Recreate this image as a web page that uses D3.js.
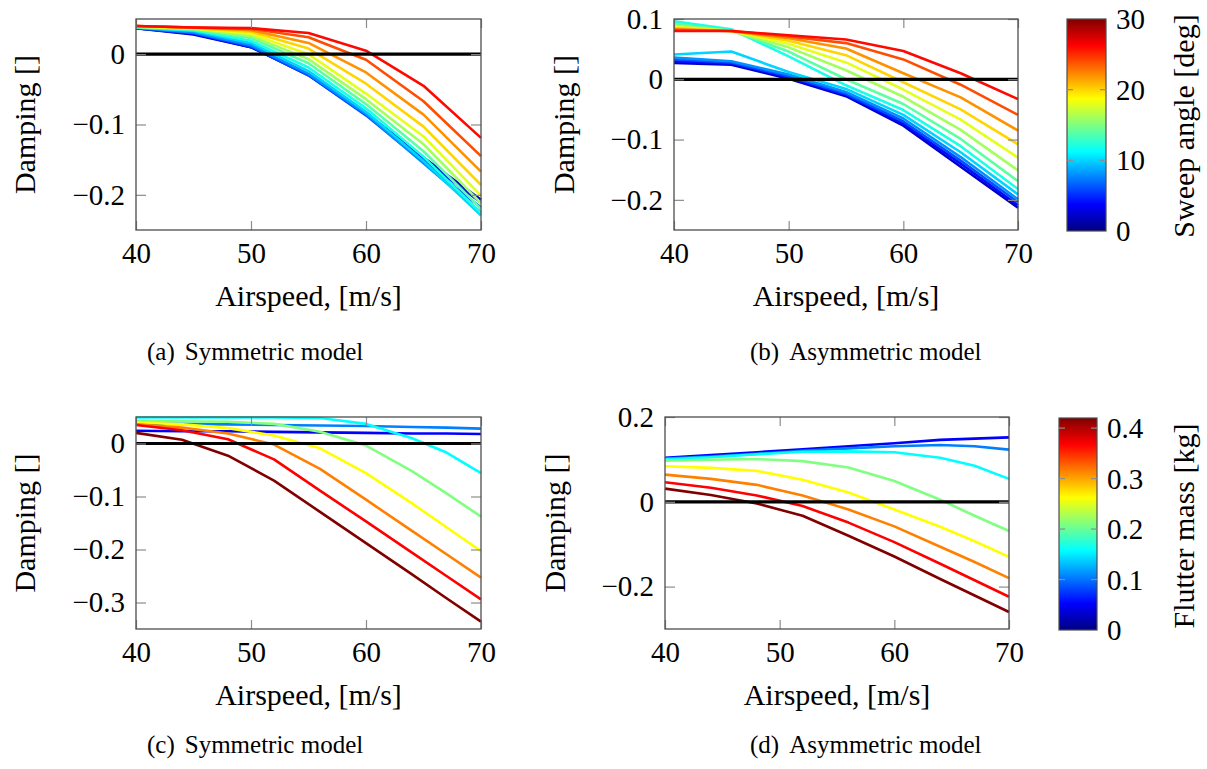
<!DOCTYPE html>
<html>
<head>
<meta charset="utf-8">
<script src="https://cdn.jsdelivr.net/npm/d3@7"></script>
<style>
body { margin: 0; background: #fff; }
</style>
</head>
<body>
<script>
//airspeed samples and sweep angles for panels (a) and (b)
var speedAB = [40, 45, 50, 55, 60, 65, 70];
var sweepAngle = [2, 4, 6, 8, 10, 12, 14, 16, 18, 20, 22, 24, 26];

//damping, symmetric model, one row per sweep angle
var dampA = [
    [0.037, 0.028, 0.010, -0.029, -0.084, -0.147, -0.207],
    [0.037, 0.029, 0.010, -0.030, -0.086, -0.150, -0.211],
    [0.037, 0.030, 0.011, -0.030, -0.087, -0.154, -0.218],
    [0.038, 0.031, 0.013, -0.028, -0.085, -0.155, -0.225],
    [0.038, 0.033, 0.016, -0.024, -0.082, -0.152, -0.229],
    [0.038, 0.034, 0.019, -0.019, -0.077, -0.146, -0.226],
    [0.039, 0.035, 0.023, -0.013, -0.071, -0.138, -0.220],
    [0.039, 0.036, 0.026, -0.007, -0.064, -0.128, -0.212],
    [0.039, 0.037, 0.029, 0.000, -0.056, -0.117, -0.201],
    [0.040, 0.037, 0.032, 0.008, -0.042, -0.103, -0.186],
    [0.040, 0.038, 0.034, 0.016, -0.026, -0.086, -0.167],
    [0.040, 0.038, 0.036, 0.024, -0.008, -0.067, -0.145],
    [0.040, 0.038, 0.037, 0.030, 0.005, -0.045, -0.119]
];

//damping, asymmetric model, one row per sweep angle
var dampB = [
    [0.027, 0.024, 0.001, -0.028, -0.077, -0.145, -0.213],
    [0.030, 0.026, 0.003, -0.026, -0.074, -0.140, -0.209],
    [0.033, 0.028, 0.005, -0.024, -0.070, -0.135, -0.204],
    [0.036, 0.030, 0.008, -0.021, -0.065, -0.129, -0.199],
    [0.041, 0.046, 0.012, -0.016, -0.059, -0.121, -0.191],
    [0.096, 0.083, 0.038, -0.010, -0.051, -0.111, -0.182],
    [0.092, 0.081, 0.046, 0.000, -0.041, -0.099, -0.169],
    [0.089, 0.080, 0.053, 0.015, -0.029, -0.084, -0.151],
    [0.087, 0.080, 0.059, 0.028, -0.017, -0.067, -0.130],
    [0.085, 0.080, 0.064, 0.040, -0.005, -0.050, -0.108],
    [0.083, 0.080, 0.068, 0.051, 0.010, -0.030, -0.085],
    [0.082, 0.080, 0.071, 0.060, 0.033, -0.009, -0.059],
    [0.080, 0.080, 0.073, 0.066, 0.047, 0.010, -0.033]
];

//airspeed samples and flutter masses for panels (c) and (d)
var speedCD = [40, 44, 48, 52, 56, 60, 64, 67, 70];
var flutterMass = [0.0525, 0.105, 0.1575, 0.21, 0.2625, 0.315, 0.3675, 0.42];

var dampC = [
    [0.024, 0.023, 0.023, 0.022, 0.021, 0.020, 0.019, 0.019, 0.018],
    [0.038, 0.037, 0.036, 0.035, 0.034, 0.033, 0.031, 0.030, 0.028],
    [0.049, 0.049, 0.049, 0.049, 0.048, 0.037, 0.010, -0.017, -0.056],
    [0.043, 0.042, 0.041, 0.037, 0.022, -0.004, -0.052, -0.094, -0.138],
    [0.040, 0.036, 0.029, 0.015, -0.009, -0.056, -0.113, -0.158, -0.203],
    [0.036, 0.030, 0.019, -0.002, -0.048, -0.106, -0.165, -0.209, -0.253],
    [0.035, 0.025, 0.008, -0.030, -0.089, -0.147, -0.206, -0.250, -0.294],
    [0.020, 0.007, -0.023, -0.070, -0.129, -0.188, -0.247, -0.292, -0.336]
];

var dampD = [
    [0.104, 0.110, 0.117, 0.124, 0.131, 0.138, 0.146, 0.149, 0.152],
    [0.102, 0.107, 0.113, 0.120, 0.126, 0.131, 0.134, 0.131, 0.123],
    [0.100, 0.105, 0.112, 0.118, 0.119, 0.117, 0.104, 0.085, 0.054],
    [0.097, 0.099, 0.101, 0.096, 0.081, 0.049, 0.005, -0.033, -0.069],
    [0.084, 0.080, 0.073, 0.052, 0.022, -0.018, -0.059, -0.093, -0.130],
    [0.064, 0.054, 0.040, 0.015, -0.018, -0.058, -0.106, -0.142, -0.180],
    [0.046, 0.033, 0.015, -0.010, -0.049, -0.095, -0.146, -0.185, -0.224],
    [0.031, 0.016, -0.004, -0.033, -0.080, -0.129, -0.182, -0.221, -0.260]
];

//tick labels
var xTicks = [40, 50, 60, 70];
var yTicksA = [-0.2, -0.1, 0];
var yTicksB = [-0.2, -0.1, 0, 0.1];
var yTicksC = [-0.3, -0.2, -0.1, 0];
var yTicksD = [-0.2, 0, 0.2];
var sweepTicks = [0, 10, 20, 30];
var massTicks = [0, 0.1, 0.2, 0.3, 0.4];

var FONT = "'Liberation Serif'";

//jet colormap
var jet = d3.scaleLinear()
    .domain([0, 0.125, 0.375, 0.625, 0.875, 1])
    .range(["#000080", "#0000ff", "#00ffff", "#ffff00", "#ff0000", "#800000"])
    .clamp(true);

var svg = d3.select("body").append("svg")
    .attr("width", 1207)
    .attr("height", 769);

var defs = svg.append("defs");

function fmt(d){
    return d === 0 ? "0" : d3.format(".1f")(d);
}

function drawPanel(o){
    var g = svg.append("g").attr("transform", "translate(" + o.left + "," + o.top + ")");

    var x = d3.scaleLinear().domain([40, 70]).range([0, o.w]);
    var y = d3.scaleLinear().domain(o.yDomain).range([o.h, 0]);

    //series
    var line = d3.line()
        .x(function(d, i){ return x(o.xs[i]); })
        .y(function(d){ return y(d); });

    g.append("g").selectAll("path")
        .data(o.rows)
        .enter()
        .append("path")
        .attr("d", line)
        .attr("fill", "none")
        .attr("stroke", function(d, i){ return o.color(i); })
        .attr("stroke-width", 2.6)
        .attr("stroke-linejoin", "round");

    //zero line
    g.append("line")
        .attr("x1", 0).attr("x2", o.w)
        .attr("y1", y(0)).attr("y2", y(0))
        .attr("stroke", "#000")
        .attr("stroke-width", 3.2);

    //axes with inward ticks on all four sides
    var axes = [
        [d3.axisBottom(x).tickValues(xTicks).tickSize(-9).tickPadding(12).tickFormat(d3.format("d")), "translate(0," + o.h + ")"],
        [d3.axisTop(x).tickValues(xTicks).tickSize(-9).tickFormat(""), null],
        [d3.axisLeft(y).tickValues(o.yTicks).tickSize(-10).tickPadding(11).tickFormat(fmt), null],
        [d3.axisRight(y).tickValues(o.yTicks).tickSize(-10).tickFormat(""), "translate(" + o.w + ",0)"]
    ];
    axes.forEach(function(a){
        var ag = g.append("g").call(a[0]);
        if (a[1]) ag.attr("transform", a[1]);
        ag.attr("font-family", null);
        ag.select(".domain").remove();
        ag.selectAll(".tick line").attr("stroke", "#8c8c8c").attr("stroke-width", 1.2);
        ag.selectAll(".tick text")
            .attr("fill", "#000")
            .style("font-family", FONT)
            .style("font-size", "29px");
    });

    //frame
    g.append("rect")
        .attr("width", o.w).attr("height", o.h)
        .attr("fill", "none")
        .attr("stroke", "#4d4d4d")
        .attr("stroke-width", 1.3);

    //axis titles
    g.append("text")
        .attr("x", o.w / 2).attr("y", o.h + 76)
        .attr("text-anchor", "middle")
        .style("font-family", FONT)
        .style("font-size", "30px")
        .text("Airspeed, [m/s]");

    g.append("text")
        .attr("transform", "translate(" + (o.ylabelX - o.left) + "," + (o.h / 2) + ") rotate(-90)")
        .attr("text-anchor", "middle")
        .attr("dominant-baseline", "central")
        .style("font-family", FONT)
        .style("font-size", "30px")
        .text("Damping []");

    //caption
    var c = svg.append("text")
        .attr("x", o.capX).attr("y", o.capY)
        .style("font-family", FONT)
        .style("font-size", "25px");
    c.append("tspan").text(o.caption[0]);
    c.append("tspan").attr("dx", 10).text(o.caption[1]);
}

function drawColorbar(o){
    var id = "grad" + o.id;
    var grad = defs.append("linearGradient")
        .attr("id", id)
        .attr("x1", 0).attr("y1", 1).attr("x2", 0).attr("y2", 0);
    grad.selectAll("stop")
        .data(jet.domain())
        .enter()
        .append("stop")
        .attr("offset", function(d){ return d; })
        .attr("stop-color", function(d){ return jet(d); });

    var y = d3.scaleLinear().domain([0, o.max]).range([o.top + o.h, o.top]);

    svg.append("rect")
        .attr("x", o.left).attr("y", o.top)
        .attr("width", o.w).attr("height", o.h)
        .attr("fill", "url(#" + id + ")")
        .attr("stroke", "#4d4d4d")
        .attr("stroke-width", 1.2);

    //interior tick marks on both sides
    var inner = o.ticks.filter(function(t){ return t > 0 && t < o.max; });
    [[o.left, o.left + 6], [o.left + o.w - 6, o.left + o.w]].forEach(function(side){
        svg.append("g").selectAll("line")
            .data(inner)
            .enter()
            .append("line")
            .attr("x1", side[0]).attr("x2", side[1])
            .attr("y1", function(d){ return y(d); })
            .attr("y2", function(d){ return y(d); })
            .attr("stroke", "#8c8c8c")
            .attr("stroke-width", 1.2);
    });

    svg.append("g").selectAll("text")
        .data(o.ticks)
        .enter()
        .append("text")
        .attr("x", o.left + o.w + 10)
        .attr("y", function(d){ return y(d); })
        .attr("dominant-baseline", "central")
        .style("font-family", FONT)
        .style("font-size", "29px")
        .text(o.format);

    svg.append("text")
        .attr("transform", "translate(" + o.labelX + "," + o.labelY + ") rotate(-90)")
        .attr("text-anchor", "middle")
        .attr("dominant-baseline", "central")
        .style("font-family", FONT)
        .style("font-size", "30px")
        .text(o.label);
}

var sweepColor = function(i){ return jet(sweepAngle[i] / 30); };
var massColor = function(i){ return jet(flutterMass[i] / 0.42); };

drawPanel({left: 136, top: 19, w: 345, h: 211, yDomain: [-0.25, 0.05], yTicks: yTicksA,
    xs: speedAB, rows: dampA, color: sweepColor, ylabelX: 24,
    caption: ["(a)", "Symmetric model"], capX: 147, capY: 360});

drawPanel({left: 674, top: 19, w: 344, h: 211, yDomain: [-0.25, 0.1], yTicks: yTicksB,
    xs: speedAB, rows: dampB, color: sweepColor, ylabelX: 563,
    caption: ["(b)", "Asymmetric model"], capX: 750, capY: 360});

drawPanel({left: 136, top: 417, w: 345, h: 212, yDomain: [-0.35, 0.05], yTicks: yTicksC,
    xs: speedCD, rows: dampC, color: massColor, ylabelX: 24,
    caption: ["(c)", "Symmetric model"], capX: 147, capY: 753});

drawPanel({left: 665, top: 417, w: 344, h: 212, yDomain: [-0.3, 0.2], yTicks: yTicksD,
    xs: speedCD, rows: dampD, color: massColor, ylabelX: 554,
    caption: ["(d)", "Asymmetric model"], capX: 750, capY: 753});

drawColorbar({id: "sweep", left: 1067, top: 19, w: 39, h: 212, max: 30, ticks: sweepTicks,
    format: d3.format("d"), label: "Sweep angle [deg]", labelX: 1183, labelY: 126});

drawColorbar({id: "mass", left: 1059, top: 418, w: 38, h: 212, max: 0.42, ticks: massTicks,
    format: fmt, label: "Flutter mass [kg]", labelX: 1183, labelY: 526});
</script>
</body>
</html>
